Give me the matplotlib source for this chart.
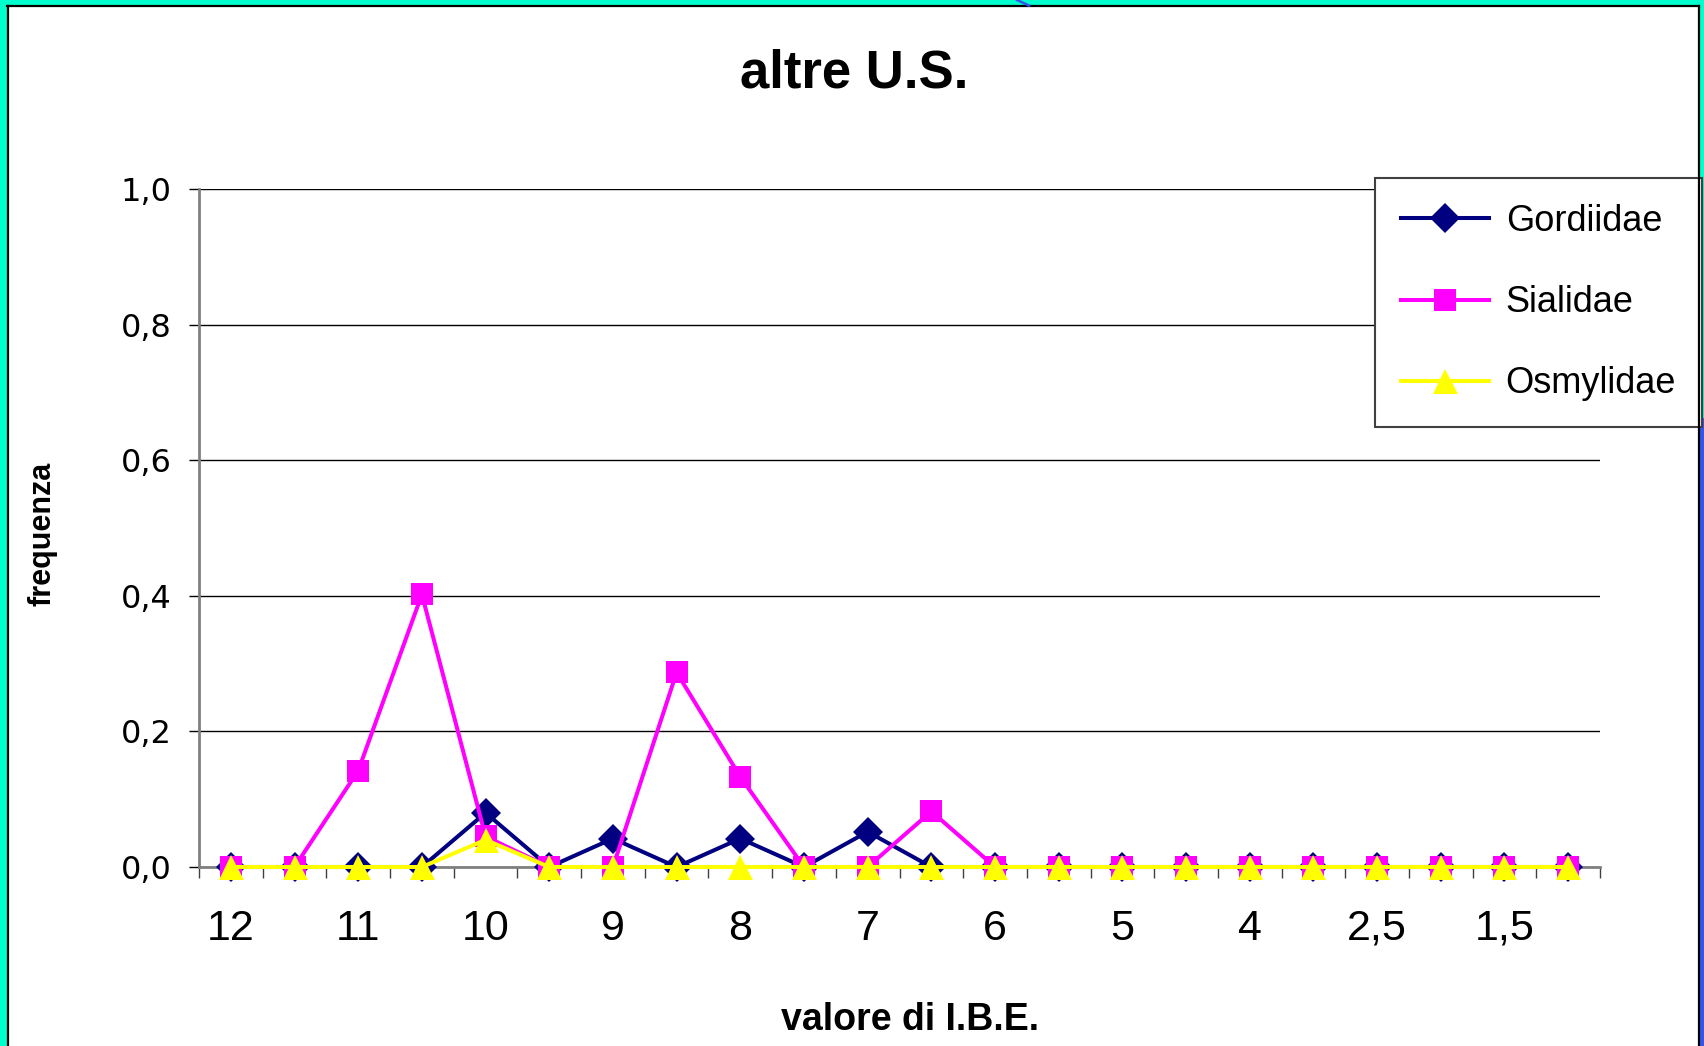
import matplotlib
matplotlib.use("Agg")
import matplotlib.pyplot as plt
from matplotlib.patches import Rectangle
from matplotlib.lines import Line2D
import numpy as np

# ---- data -------------------------------------------------------------
categories = ["12", "", "11", "", "10", "", "9", "", "8", "", "7", "",
              "6", "", "5", "", "4", "", "2,5", "", "1,5", ""]
gordiidae = [0, 0, 0, 0, 0.08, 0, 0.042, 0, 0.042, 0, 0.052, 0,
             0, 0, 0, 0, 0, 0, 0, 0, 0, 0]
sialidae = [0, 0, 0.142, 0.402, 0.045, 0, 0, 0.287, 0.133, 0, 0, 0.082,
            0, 0, 0, 0, 0, 0, 0, 0, 0, 0]
osmylidae = [0, 0, 0, 0, 0.04, 0, 0, 0, 0, 0, 0, 0,
             0, 0, 0, 0, 0, 0, 0, 0, 0, 0]
y_ticks = [0.0, 0.2, 0.4, 0.6, 0.8, 1.0]
y_tick_labels = ["0,0", "0,2", "0,4", "0,6", "0,8", "1,0"]

title = "altre U.S."
x_label = "valore di I.B.E."
y_label = "frequenza"

plt.rcParams["font.family"] = ["Liberation Sans", "DejaVu Sans"]

W, H = 1704, 1046
fig = plt.figure(figsize=(W / 100, H / 100), dpi=100)
fig.patch.set_facecolor("#00FFCC")


def fx(x):
    return x / W


def fy(y):
    return 1 - y / H


# ---- page frame ---------------------------------------------------------
fig.add_artist(Rectangle((fx(8), 0), (1698 - 8) / W, (H - 7) / H,
                         transform=fig.transFigure, facecolor="white",
                         edgecolor="none", zorder=0))
fig.add_artist(Rectangle((fx(1700), 0), 4 / W, (H - 418) / H,
                         transform=fig.transFigure, facecolor="#3355EE",
                         edgecolor="none", zorder=0))
for xs, ys in [((7.5, 7.5), (6, H)), ((7, 1699), (6, 6)), ((1699, 1699), (6, H))]:
    fig.add_artist(Line2D([fx(v) for v in xs], [fy(v) for v in ys],
                          transform=fig.transFigure, color="black", lw=1.6,
                          zorder=1))
fig.add_artist(Line2D([fx(1017), fx(1029)], [fy(0), fy(5.5)],
                      transform=fig.transFigure, color="#3355EE", lw=1.8,
                      zorder=1))

# ---- plot area ----------------------------------------------------------
ax = fig.add_axes([fx(199), fy(867), (1600 - 199) / W, (867 - 189) / H])
ax.set_facecolor("white")
x = np.arange(len(categories))

ax.plot(x, gordiidae, color="#000080", lw=2.9, marker="D", ms=15, mew=0,
        clip_on=False, zorder=3, label="Gordiidae")
ax.plot(x, sialidae, color="#FF00FF", lw=2.9, marker="s", ms=15.5, mew=0,
        clip_on=False, zorder=4, label="Sialidae")
ax.plot(x, osmylidae, color="#FFFF00", lw=2.9, marker="^", ms=18, mew=0,
        clip_on=False, zorder=5, label="Osmylidae")

ax.set_xlim(-0.5, len(categories) - 0.5)
ax.set_ylim(0, 1.0)

ax.yaxis.grid(True, color="black", lw=1.0)
ax.set_axisbelow(True)
for side in ("top", "right"):
    ax.spines[side].set_visible(False)
for side in ("left", "bottom"):
    ax.spines[side].set_color("#808080")
    ax.spines[side].set_linewidth(2)

ax.set_yticks(y_ticks)
ax.set_yticklabels(y_tick_labels, fontfamily="DejaVu Sans", fontsize=23)
ax.tick_params(axis="y", direction="out", length=7.5, width=1,
               color="black", pad=12)

ax.set_xticks(np.arange(-0.5, len(categories), 1.0))
ax.set_xticklabels([])
ax.set_xticks(x, minor=True)
ax.set_xticklabels(categories, minor=True, fontsize=31)
ax.tick_params(axis="x", which="major", direction="out", length=8,
               width=1, color="#404040")
ax.tick_params(axis="x", which="minor", length=0, pad=30)

leg = ax.legend(loc="upper left", bbox_to_anchor=(fx(1375), fy(178)),
                bbox_transform=fig.transFigure, frameon=True, fancybox=False,
                edgecolor="#404040", framealpha=1, fontsize=26,
                handlelength=2.45, handletextpad=0.45, labelspacing=1.28,
                borderpad=0.72, borderaxespad=0)
leg.get_frame().set_linewidth(1.5)
leg.set_zorder(10)

# ---- texts --------------------------------------------------------------
fig.text(fx(854), fy(87), title, ha="center", va="baseline",
         fontsize=38, fontweight="bold")
fig.text(fx(910), fy(1030), x_label, ha="center", va="baseline",
         fontsize=27, fontweight="bold")
fig.text(fx(42), fy(534), y_label, ha="center", va="center", rotation=90,
         fontsize=22, fontweight="bold")

fig.savefig("out.png", dpi=100)
